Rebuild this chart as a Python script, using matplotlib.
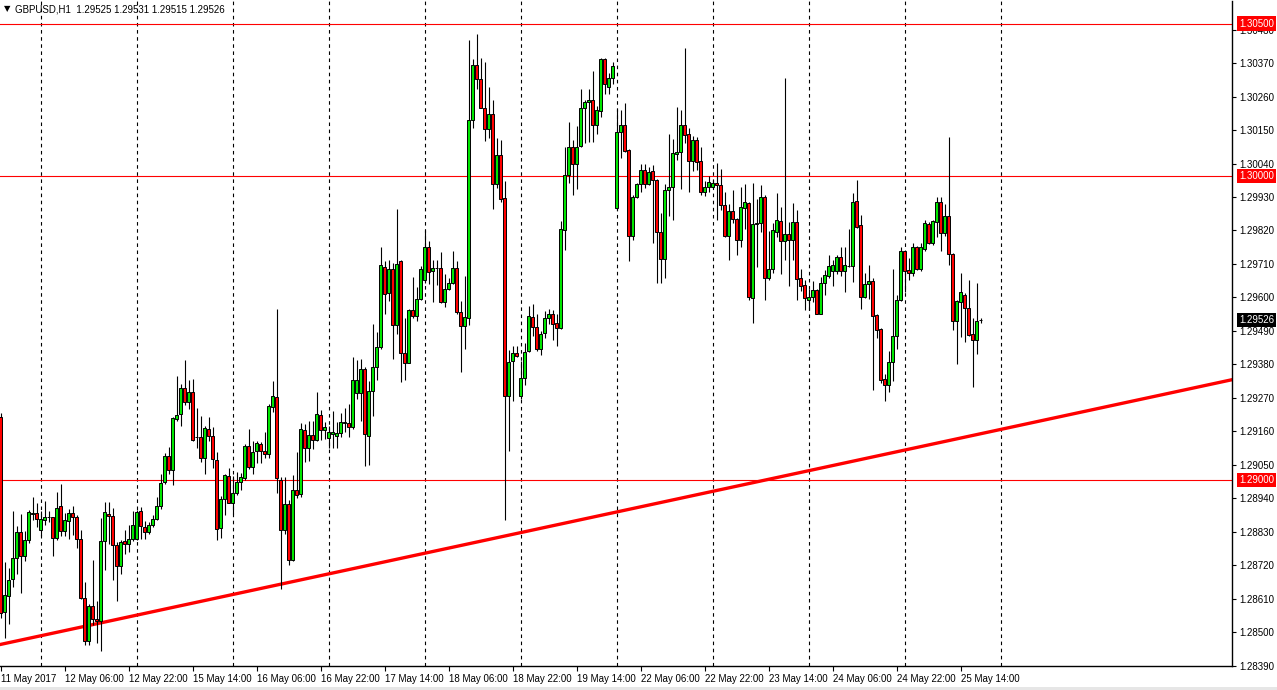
import numpy as np
import matplotlib
matplotlib.use("Agg")
import matplotlib.pyplot as plt
from matplotlib.transforms import blended_transform_factory
from matplotlib.patches import Rectangle

# ---------------- data (GBPUSD H1) ----------------
symbol_title = "GBPUSD,H1  1.29525 1.29531 1.29515 1.29526"

opens = [1.29206,1.28566,1.28620,1.28676,1.28743,1.28829,1.28749,1.28802,1.28890,1.28891,
1.28835,1.28870,1.28878,1.28878,1.28808,1.28915,1.28832,1.28867,1.28891,1.28880,
1.28805,1.28612,1.28472,1.28585,1.28544,1.28536,1.28800,1.28888,1.28883,1.28786,
1.28719,1.28800,1.28789,1.28805,1.28805,1.28897,1.28845,1.28829,1.28853,1.28872,
1.28915,1.28993,1.29079,1.29034,1.29200,1.29216,1.29302,1.29257,1.29289,1.29142,
1.29141,1.29074,1.29168,1.29146,1.29066,1.28843,1.28939,1.29012,1.28926,1.28956,
1.28993,1.29007,1.29112,1.29042,1.29095,1.29120,1.29095,1.29087,1.29241,1.29273,
1.29001,1.28835,1.28921,1.28738,1.28966,1.28953,1.29165,1.29104,1.29149,1.29133,
1.29214,1.29165,1.29138,1.29152,1.29146,1.29155,1.29189,1.29187,1.29173,1.29286,
1.29286,1.29364,1.29146,1.29294,1.29370,1.29437,1.29700,1.29614,1.29695,1.29509,
1.29719,1.29418,1.29386,1.29560,1.29539,1.29595,1.29657,1.29765,1.29687,1.29697,
1.29697,1.29585,1.29628,1.29646,1.29697,1.29552,1.29507,1.29534,1.30184,1.30364,
1.30319,1.30224,1.30155,1.30203,1.29974,1.30068,1.29926,1.29276,1.29391,1.29418,
1.29276,1.29335,1.29423,1.29536,1.29504,1.29429,1.29483,1.29534,1.29544,1.29515,
1.29499,1.29821,1.30001,1.30093,1.30039,1.30098,1.30222,1.30241,1.30249,1.30165,
1.30214,1.30383,1.30292,1.30321,1.29894,1.30144,1.30165,1.30085,1.29802,1.29929,
1.29972,1.30020,1.29972,1.30015,1.29985,1.29816,1.29727,1.29953,1.29964,1.30071,
1.30077,1.30168,1.30136,1.30047,1.30117,1.30047,1.29945,1.29964,1.29964,1.29977,
1.29969,1.29905,1.29802,1.29883,1.29859,1.29789,1.29894,1.29910,1.29598,1.29842,
1.29843,1.29929,1.29663,1.29695,1.29816,1.29851,1.29786,1.29808,1.29789,1.29848,
1.29665,1.29641,1.29593,1.29601,1.29625,1.29547,1.29649,1.29671,1.29687,1.29687,
1.29733,1.29687,1.29702,1.29703,1.29918,1.29837,1.29601,1.29644,1.29654,1.29542,
1.29496,1.29332,1.29313,1.29388,1.29474,1.29593,1.29751,1.29690,1.29679,1.29765,
1.29695,1.29759,1.29840,1.29778,1.29848,1.29913,1.29811,1.29867,1.29743,1.29523,
1.29585,1.29609,1.29566,1.29480,1.29461,1.29525]

highs = [1.29219,1.28731,1.28711,1.28899,1.28848,1.28888,1.28832,1.28902,1.28945,1.28926,
1.28899,1.28931,1.28899,1.28880,1.28961,1.28988,1.28891,1.28905,1.28915,1.28886,
1.28835,1.28665,1.28593,1.28738,1.28601,1.28875,1.28929,1.28929,1.28907,1.28797,
1.28802,1.28837,1.28853,1.28899,1.28902,1.28913,1.28864,1.28862,1.28886,1.28945,
1.29020,1.29090,1.29109,1.29208,1.29343,1.29316,1.29396,1.29329,1.29332,1.29238,
1.29211,1.29176,1.29206,1.29173,1.29093,1.28948,1.29020,1.29039,1.29012,1.29026,
1.29023,1.29120,1.29168,1.29128,1.29128,1.29125,1.29157,1.29249,1.29324,1.29563,
1.29009,1.29009,1.28934,1.29017,1.29093,1.29187,1.29184,1.29195,1.29195,1.29289,
1.29230,1.29192,1.29176,1.29227,1.29192,1.29219,1.29238,1.29251,1.29405,1.29396,
1.29399,1.29370,1.29324,1.29512,1.29485,1.29765,1.29719,1.29722,1.29714,1.29891,
1.29722,1.29531,1.29563,1.29668,1.29633,1.29703,1.29821,1.29786,1.29724,1.29724,
1.29749,1.29676,1.29665,1.29754,1.29719,1.29587,1.29671,1.30445,1.30383,1.30464,
1.30388,1.30372,1.30292,1.30249,1.30125,1.30117,1.29983,1.29426,1.29442,1.29440,
1.29391,1.29450,1.29571,1.29577,1.29547,1.29491,1.29555,1.29563,1.29558,1.29547,
1.29851,1.30095,1.30176,1.30117,1.30163,1.30284,1.30249,1.30284,1.30345,1.30230,
1.30388,1.30386,1.30337,1.30372,1.30219,1.30216,1.30238,1.30088,1.29937,1.29977,
1.30039,1.30039,1.30028,1.30036,1.29988,1.29878,1.29972,1.30138,1.30122,1.30227,
1.30216,1.30418,1.30157,1.30130,1.30128,1.30095,1.29983,1.29999,1.29985,1.30042,
1.30023,1.29948,1.29907,1.29953,1.29862,1.29964,1.29972,1.29913,1.29977,1.29923,
1.29969,1.29937,1.29819,1.29843,1.29942,1.29896,1.30321,1.29848,1.29910,1.29886,
1.29695,1.29657,1.29628,1.29654,1.29628,1.29668,1.29690,1.29741,1.29722,1.29738,
1.29765,1.29765,1.29824,1.29942,1.29985,1.29870,1.29681,1.29708,1.29663,1.29544,
1.29499,1.29348,1.29423,1.29692,1.29609,1.29765,1.29754,1.29730,1.29778,1.29770,
1.29778,1.29853,1.29848,1.29856,1.29929,1.29929,1.29907,1.30128,1.29746,1.29590,
1.29679,1.29614,1.29657,1.29531,1.29646,1.29531]

lows = [1.28547,1.28480,1.28526,1.28647,1.28690,1.28630,1.28735,1.28792,1.28870,1.28845,
1.28816,1.28851,1.28862,1.28749,1.28802,1.28816,1.28816,1.28805,1.28821,1.28778,
1.28609,1.28458,1.28458,1.28523,1.28464,1.28437,1.28706,1.28789,1.28671,1.28604,
1.28690,1.28757,1.28765,1.28800,1.28802,1.28805,1.28805,1.28824,1.28845,1.28870,
1.28905,1.28988,1.29020,1.28983,1.29195,1.29176,1.29246,1.29235,1.29128,1.29106,
1.29060,1.29020,1.29128,1.29039,1.28802,1.28808,1.28886,1.28923,1.28888,1.28950,
1.28966,1.28999,1.29036,1.29020,1.29055,1.29055,1.29071,1.29071,1.29222,1.28956,
1.28641,1.28824,1.28722,1.28735,1.28942,1.28945,1.29060,1.29063,1.29101,1.29128,
1.29133,1.29136,1.29104,1.29104,1.29104,1.29141,1.29157,1.29141,1.29168,1.29265,
1.29195,1.29047,1.29050,1.29211,1.29329,1.29431,1.29547,1.29587,1.29397,1.29480,
1.29321,1.29329,1.29383,1.29531,1.29523,1.29593,1.29649,1.29644,1.29585,1.29641,
1.29582,1.29569,1.29625,1.29644,1.29544,1.29356,1.29431,1.29509,1.30157,1.30284,
1.30222,1.30114,1.30125,1.29891,1.29961,1.29913,1.28870,1.29095,1.29259,1.29405,
1.29265,1.29313,1.29421,1.29474,1.29423,1.29410,1.29466,1.29512,1.29461,1.29440,
1.29496,1.29757,1.29977,1.29937,1.29956,1.30095,1.30109,1.30112,1.30112,1.30138,
1.30192,1.30270,1.30270,1.30300,1.29886,1.30057,1.30079,1.29719,1.29789,1.29926,
1.29948,1.29958,1.29969,1.29778,1.29649,1.29646,1.29663,1.29867,1.29853,1.30050,
1.29956,1.30109,1.29948,1.30015,1.30020,1.29937,1.29934,1.29945,1.29961,1.29856,
1.29888,1.29797,1.29722,1.29845,1.29738,1.29767,1.29824,1.29593,1.29515,1.29700,
1.29816,1.29593,1.29657,1.29679,1.29800,1.29676,1.29722,1.29636,1.29724,1.29590,
1.29620,1.29558,1.29558,1.29585,1.29544,1.29544,1.29609,1.29663,1.29636,1.29676,
1.29671,1.29617,1.29700,1.29652,1.29827,1.29563,1.29598,1.29595,1.29297,1.29466,
1.29319,1.29259,1.29289,1.29324,1.29429,1.29587,1.29617,1.29657,1.29671,1.29690,
1.29687,1.29751,1.29776,1.29773,1.29800,1.29751,1.29802,1.29708,1.29493,1.29380,
1.29469,1.29453,1.29472,1.29305,1.29415,1.29515]

closes = [1.28563,1.28622,1.28673,1.28743,1.28829,1.28749,1.28802,1.28894,1.28891,1.28872,
1.28872,1.28880,1.28877,1.28808,1.28907,1.28832,1.28870,1.28891,1.28880,1.28805,
1.28612,1.28472,1.28587,1.28544,1.28536,1.28800,1.28894,1.28883,1.28786,1.28716,
1.28797,1.28789,1.28805,1.28851,1.28894,1.28848,1.28829,1.28851,1.28872,1.28915,
1.28991,1.29079,1.29034,1.29203,1.29214,1.29302,1.29257,1.29289,1.29133,1.29141,
1.29074,1.29171,1.29146,1.29069,1.28840,1.28939,1.29015,1.28926,1.28956,1.28993,
1.29009,1.29112,1.29042,1.29093,1.29122,1.29095,1.29087,1.29243,1.29276,1.29007,
1.28835,1.28921,1.28738,1.28966,1.28950,1.29168,1.29104,1.29149,1.29133,1.29216,
1.29165,1.29173,1.29157,1.29157,1.29155,1.29190,1.29190,1.29173,1.29329,1.29329,
1.29364,1.29152,1.29294,1.29370,1.29437,1.29706,1.29612,1.29692,1.29509,1.29711,
1.29418,1.29386,1.29560,1.29539,1.29595,1.29692,1.29765,1.29684,1.29698,1.29698,
1.29585,1.29628,1.29646,1.29697,1.29552,1.29507,1.29536,1.30184,1.30364,1.30319,
1.30224,1.30155,1.30203,1.29974,1.30068,1.29923,1.29276,1.29388,1.29418,1.29407,
1.29335,1.29421,1.29539,1.29504,1.29429,1.29480,1.29534,1.29544,1.29512,1.29501,
1.29824,1.30001,1.30093,1.30039,1.30095,1.30222,1.30241,1.30249,1.30165,1.30216,
1.30383,1.30302,1.30321,1.30359,1.30144,1.30165,1.30082,1.29802,1.29929,1.29972,
1.30020,1.29972,1.30012,1.29985,1.29816,1.29727,1.29953,1.29964,1.30074,1.30077,
1.30168,1.30133,1.30047,1.30117,1.30044,1.29948,1.29964,1.29980,1.29977,1.29969,
1.29905,1.29802,1.29883,1.29859,1.29789,1.29896,1.29913,1.29603,1.29840,1.29843,
1.29929,1.29663,1.29695,1.29821,1.29853,1.29786,1.29808,1.29789,1.29848,1.29660,
1.29636,1.29598,1.29603,1.29625,1.29547,1.29649,1.29673,1.29703,1.29706,1.29733,
1.29687,1.29706,1.29703,1.29913,1.29832,1.29601,1.29644,1.29654,1.29539,1.29493,
1.29329,1.29313,1.29388,1.29474,1.29593,1.29751,1.29687,1.29679,1.29765,1.29695,
1.29765,1.29845,1.29778,1.29851,1.29913,1.29811,1.29867,1.29743,1.29523,1.29587,
1.29617,1.29566,1.29477,1.29461,1.29523,1.29526]

# time axis labels (every 16 bars) and day separators (every 24 bars from bar 10)
time_labels = ['11 May 2017', '12 May 06:00', '12 May 22:00', '15 May 14:00',
               '16 May 06:00', '16 May 22:00', '17 May 14:00', '18 May 06:00',
               '18 May 22:00', '19 May 14:00', '22 May 06:00', '22 May 22:00',
               '23 May 14:00', '24 May 06:00', '24 May 22:00', '25 May 14:00']
label_bars = [0, 16, 32, 48, 64, 80, 96, 112, 128, 144, 160, 176, 192, 208, 224, 240]
day_sep_bars = [10, 34, 58, 82, 106, 130, 154, 178, 202, 226, 250]

# price axis ticks
price_ticks = [1.28390, 1.28500, 1.28610, 1.28720, 1.28830, 1.28940, 1.29050,
               1.29160, 1.29270, 1.29380, 1.29490, 1.29600, 1.29710, 1.29820,
               1.29930, 1.30040, 1.30150, 1.30260, 1.30370, 1.30480]

# horizontal levels and trend line anchors
levels = [1.30500, 1.30000, 1.29000]
trend_x = [0, 246]
trend_y = [1.28460, 1.29155]
current_price = 1.29526

# ---------------- figure ----------------
W, H = 1277, 690
fig = plt.figure(figsize=(W / 100, H / 100), dpi=100)
fig.patch.set_facecolor('white')

ax_left, ax_right, ax_top, ax_bot = 0, 1232, 1, 666   # pixel frame
ax = fig.add_axes([ax_left / W, (H - ax_bot) / H,
                   (ax_right - ax_left) / W, (ax_bot - ax_top) / H])
ax.set_facecolor('white')

bar_px = 4.0
x0_px = 0.67
ax.set_xlim((0 - x0_px) / bar_px, (ax_right - x0_px) / bar_px)
ax.set_ylim(1.28389, 1.30574)

o = np.array(opens); h = np.array(highs); l = np.array(lows); c = np.array(closes)
x = np.arange(len(o))
up = c >= o
body_colors = np.where(up, '#00e600', '#ff0000')

# day separators
ax.vlines(day_sep_bars, 0, 1, transform=ax.get_xaxis_transform(),
          colors='black', linewidth=0.8, linestyles=(0, (3.2, 3.2)), zorder=1)

# horizontal levels
for lv in levels:
    ax.axhline(lv, color='#ff0000', linewidth=0.8, zorder=1.5)

# trend line
ax.axline((trend_x[0], trend_y[0]), (trend_x[1], trend_y[1]),
          color='#ff0000', linewidth=2.4, zorder=1.6)

# candles
ax.vlines(x, l, h, colors='black', linewidth=0.8, zorder=2)
ax.bar(x, np.maximum(np.abs(c - o), 0.000012), bottom=np.minimum(o, c),
       width=0.6, color=body_colors, edgecolor='black', linewidth=0.7, zorder=3)

# axes styling
for s in ['top', 'left']:
    ax.spines[s].set_visible(False)
for s in ['right', 'bottom']:
    ax.spines[s].set_color('black')
    ax.spines[s].set_linewidth(1.0)

font = ['Liberation Sans', 'DejaVu Sans']
ax.yaxis.tick_right()
ax.set_yticks(price_ticks)
ax.set_yticklabels([f"{p:.5f}" for p in price_ticks], fontsize=7, family=font)
ax.tick_params(axis='y', direction='out', length=3, width=0.8, pad=2, colors='black')

ax.set_xticks(label_bars)
ax.set_xticklabels(time_labels, fontsize=7, family=font, ha='left')
ax.tick_params(axis='x', direction='out', length=3.5, width=0.8, pad=2, colors='black')
for lab in ax.get_xticklabels():
    lab.set_horizontalalignment('left')

# price labels on the right axis
tr = blended_transform_factory(fig.transFigure, ax.transData)
for lv in levels:
    fig.text(1239 / W, lv, f"{lv:.5f}", transform=tr, fontsize=7, family=font,
             color='white', ha='left', va='center', zorder=10,
             bbox=dict(boxstyle='square,pad=0.22', fc='#ff0000', ec='none'))
fig.text(1239 / W, current_price, f"{current_price:.5f}", transform=tr, fontsize=7,
         family=font, color='white', ha='left', va='center', zorder=10,
         bbox=dict(boxstyle='square,pad=0.22', fc='black', ec='none'))

# title
fig.text(4 / W, 1 - 9 / H, "\u25bc", fontsize=6, family=['DejaVu Sans'],
         color='black', ha='left', va='center')
fig.text(15 / W, 1 - 9 / H, symbol_title, fontsize=7, family=font,
         color='black', ha='left', va='center')

# bottom scrollbar strip
fig.patches.append(Rectangle((0, 0), 1, 3 / H, transform=fig.transFigure,
                             facecolor='#e6e6e6', edgecolor='none'))

fig.savefig('out.png', dpi=100)
